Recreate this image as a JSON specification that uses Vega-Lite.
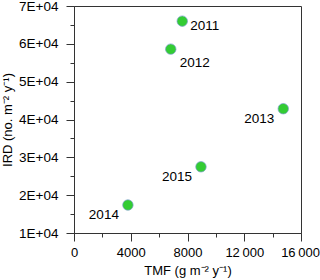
{
  "$schema": "https://vega.github.io/schema/vega-lite/v6.json",
  "autosize": {"type": "none"},
  "width": 227,
  "height": 227,
  "padding": {"left": 74, "top": 6, "right": 19, "bottom": 47},
  "background": "white",
  "config": {
    "view": {"stroke": "#333", "strokeWidth": 1},
    "font": "Liberation Sans",
    "axis": {
      "domainColor": "#333",
      "tickColor": "#333",
      "grid": false,
      "labelFont": "Liberation Sans",
      "titleFont": "Liberation Sans",
      "labelFontSize": 13.5,
      "titleFontSize": 13,
      "titleFontWeight": "normal",
      "labelColor": "#000",
      "titleColor": "#000"
    }
  },
  "data": {
    "values": [
      {"year": "2011", "TMF": 7630, "IRD": 66000},
      {"year": "2012", "TMF": 6820, "IRD": 58600},
      {"year": "2013", "TMF": 14750, "IRD": 42850},
      {"year": "2014", "TMF": 3800, "IRD": 17400},
      {"year": "2015", "TMF": 8950, "IRD": 27500}
    ]
  },
  "encoding": {
    "x": {
      "field": "TMF", "type": "quantitative",
      "scale": {"domain": [0, 16000], "nice": false, "zero": false},
      "axis": {
        "title": "TMF (g m⁻² y⁻¹)",
        "values": [0, 2000, 4000, 6000, 8000, 10000, 12000, 14000, 16000],
        "labelExpr": "datum.value % 4000 !== 0 ? '' : (datum.value >= 10000 ? format(datum.value / 1000, 'd') + '\u2009000' : format(datum.value, 'd'))",
        "tickSize": {"expr": "datum.value % 4000 === 0 ? 8 : 4"},
        "labelFontSize": 13,
        "labelOffset": {"expr": "datum.value === 16000 ? -1 : 0"},
        "labelPadding": 5,
        "titlePadding": 5,
        "labelFlush": false
      }
    },
    "y": {
      "field": "IRD", "type": "quantitative",
      "scale": {"domain": [10000, 70000], "nice": false, "zero": false},
      "axis": {
        "title": "IRD (no. m⁻² y⁻¹)",
        "values": [10000, 15000, 20000, 25000, 30000, 35000, 40000, 45000, 50000, 55000, 60000, 65000, 70000],
        "labelExpr": "datum.value % 10000 !== 0 ? '' : format(datum.value / 10000, 'd') + 'E+04'",
        "tickSize": {"expr": "datum.value % 10000 === 0 ? 8 : 4"},
        "labelPadding": 8,
        "titlePadding": 4,
        "labelFlush": false
      }
    }
  },
  "layer": [
    {
      "mark": {"type": "point", "filled": true, "shape": "circle", "size": 110, "color": "#33cc33", "opacity": 1, "stroke": "#7f9fd0", "strokeWidth": 0.7}
    },
    {
      "transform": [{"filter": "datum.year === '2011'"}],
      "mark": {"type": "text", "align": "left", "baseline": "middle", "dx": 8, "dy": 5, "fontSize": 13.5, "color": "#000"},
      "encoding": {"text": {"field": "year"}}
    },
    {
      "transform": [{"filter": "datum.year === '2012'"}],
      "mark": {"type": "text", "align": "left", "baseline": "middle", "dx": 9, "dy": 14, "fontSize": 13.5, "color": "#000"},
      "encoding": {"text": {"field": "year"}}
    },
    {
      "transform": [{"filter": "datum.year === '2013' || datum.year === '2014' || datum.year === '2015'"}],
      "mark": {"type": "text", "align": "right", "baseline": "middle", "dx": -9, "dy": 10, "fontSize": 13.5, "color": "#000"},
      "encoding": {"text": {"field": "year"}}
    }
  ]
}
